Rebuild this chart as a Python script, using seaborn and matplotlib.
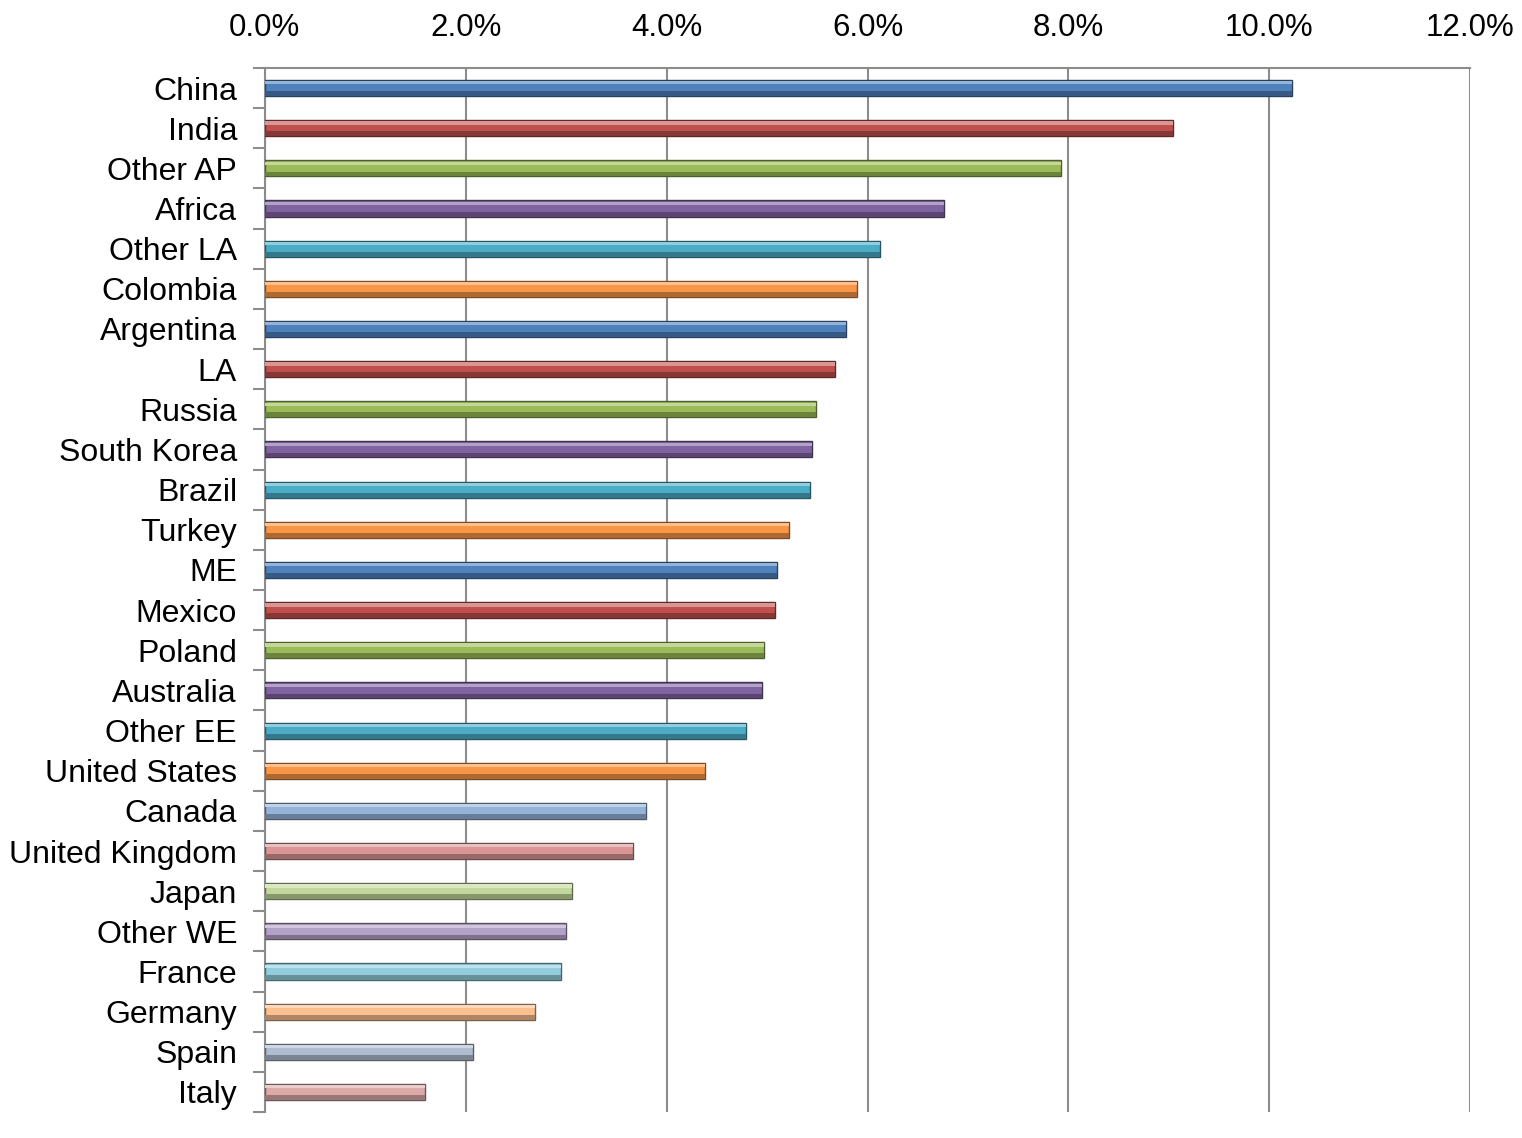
import matplotlib
matplotlib.use("Agg")
import matplotlib.pyplot as plt
import matplotlib.colors as mcolors
from matplotlib.patches import Rectangle
from matplotlib.ticker import FixedLocator, PercentFormatter
import seaborn as sns
import pandas as pd
import numpy as np

countries = ["China", "India", "Other AP", "Africa", "Other LA", "Colombia", "Argentina", "LA",
             "Russia", "South Korea", "Brazil", "Turkey", "ME", "Mexico", "Poland", "Australia",
             "Other EE", "United States", "Canada", "United Kingdom", "Japan", "Other WE",
             "France", "Germany", "Spain", "Italy"]
growth = [10.23, 9.04, 7.93, 6.76, 6.12, 5.90, 5.79, 5.68, 5.49, 5.45, 5.43, 5.22, 5.10, 5.08,
          4.97, 4.95, 4.79, 4.38, 3.79, 3.67, 3.06, 3.00, 2.95, 2.69, 2.07, 1.59]
bar_colors = ["#4F81BD", "#C0504D", "#9BBB59", "#8064A2", "#4BACC6", "#F79646"] * 3 + \
             ["#95B3D7", "#D99694", "#C3D69B", "#B3A2C7", "#93CDDD", "#FAC090", "#B0BDD0", "#DBAAA9"]
x_ticks = [0, 2, 4, 6, 8, 10, 12]

sns.set_theme(style="white")
plt.rcParams["font.family"] = ["Liberation Sans", "DejaVu Sans"]

df = pd.DataFrame({"country": countries, "growth": growth})

fig = plt.figure(figsize=(15.22, 11.38), dpi=100)
ax = fig.add_axes([0.174, 0.0228, 0.792, 0.9175])

sns.barplot(data=df, x="growth", y="country", hue="country", palette=bar_colors,
            legend=False, width=0.4, ax=ax, saturation=1, zorder=3)

def shade(c, f):
    r = np.array(mcolors.to_rgb(c))
    if f > 0:
        return tuple(r + (1 - r) * f)
    return tuple(r * (1 + f))

for p, c in zip(ax.patches, bar_colors):
    x0, y0, w, h = p.get_x(), p.get_y(), p.get_width(), p.get_height()
    p.set_edgecolor(shade(c, -0.5))
    p.set_linewidth(1.0)
    # top highlight (y inverted: smaller y is top)
    ax.add_patch(Rectangle((x0, y0 + h * 0.08), w, h * 0.2, facecolor=shade(c, 0.4),
                           edgecolor="none", zorder=3.5))
    ax.add_patch(Rectangle((x0, y0 + h * 0.7), w, h * 0.3, facecolor=shade(c, -0.3),
                           edgecolor="none", zorder=3.5))

ax.set_xlim(0, 12)
ax.set_ylim(len(countries) - 0.5, -0.5)
ax.xaxis.set_major_locator(FixedLocator(x_ticks))
ax.xaxis.set_major_formatter(PercentFormatter(decimals=1))
ax.xaxis.tick_top()
ax.tick_params(axis="x", which="major", length=0, pad=18, labelsize=22.5, colors="black")
ax.grid(axis="x", color="#8c8c8c", linewidth=1.5, zorder=0)
ax.set_axisbelow(True)

ax.yaxis.set_minor_locator(FixedLocator(np.arange(-0.5, len(countries), 1.0)))
ax.tick_params(axis="y", which="major", length=0, pad=27, labelsize=23, colors="black")
ax.tick_params(axis="y", which="minor", length=9, width=1.5, color="#8c8c8c", left=True)
for t in ax.get_yticklabels():
    t.set_x(0.0)
ax.yaxis.set_tick_params(which="major", pad=20)

for s in ["right", "bottom"]:
    ax.spines[s].set_visible(False)
for s in ["top", "left"]:
    ax.spines[s].set_color("#8c8c8c")
    ax.spines[s].set_linewidth(1.5)

ax.set_xlabel("")
ax.set_ylabel("")

fig.savefig("out.png", dpi=100)
